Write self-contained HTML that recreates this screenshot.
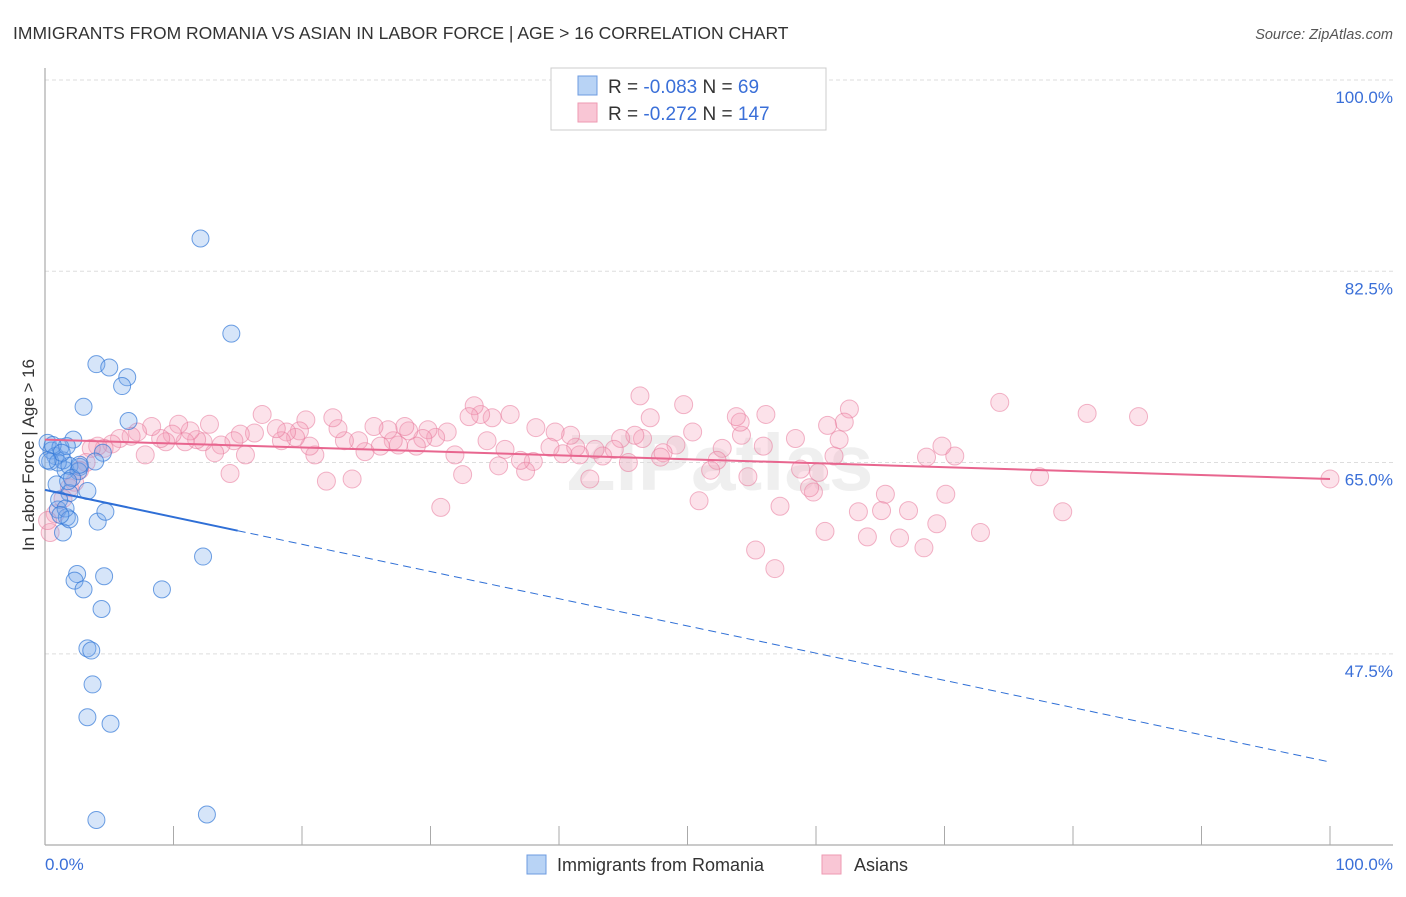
<!DOCTYPE html>
<html><head><meta charset="utf-8"><style>
body{margin:0;background:#fff;font-family:"Liberation Sans",sans-serif;}
svg text{font-family:"Liberation Sans",sans-serif;}
</style></head><body>
<svg id="c" width="1406" height="892" xmlns="http://www.w3.org/2000/svg">
<text x="13" y="39" font-size="17.5" fill="#333">IMMIGRANTS FROM ROMANIA VS ASIAN IN LABOR FORCE | AGE &gt; 16 CORRELATION CHART</text>
<text x="1393" y="39" font-size="14.5" fill="#555" font-style="italic" text-anchor="end">Source: ZipAtlas.com</text>
<text x="720" y="490" font-size="80" fill="#e6e6e6" font-weight="bold" text-anchor="middle" opacity="0.6">ZIPatlas</text>
<g id="grid"></g>
<line x1="45" y1="68" x2="45" y2="845" stroke="#aaa" stroke-width="1.2"/>
<line x1="45" y1="845" x2="1393" y2="845" stroke="#aaa" stroke-width="1.2"/>
<g id="xticks"></g>
<text transform="translate(34,455) rotate(-90)" font-size="17" fill="#333" text-anchor="middle">In Labor Force | Age &gt; 16</text>
<text x="45" y="870" font-size="17" fill="#3a6fd8">0.0%</text>
<text x="1393" y="870" font-size="17" fill="#3a6fd8" text-anchor="end">100.0%</text>
<g id="pts"></g>
<g id="trend"></g>
<g>
<rect x="551" y="68" width="275" height="62" fill="#fff" stroke="#ccc"/>
<rect x="578" y="76" width="19" height="19" fill="#b8d3f5" stroke="#6d9be0"/>
<rect x="578" y="103" width="19" height="19" fill="#f9c6d5" stroke="#ee9ab2"/>
<text x="608" y="93" font-size="19" fill="#333">R = <tspan fill="#3a6fd8">-0.083</tspan>   N =  <tspan fill="#3a6fd8"> 69</tspan></text>
<text x="608" y="120" font-size="19" fill="#333">R =  <tspan fill="#3a6fd8">-0.272</tspan>   N = <tspan fill="#3a6fd8">147</tspan></text>
</g>
<g>
<rect x="527" y="855" width="19" height="19" fill="#b8d3f5" stroke="#6d9be0"/>
<text x="557" y="871" font-size="18" fill="#333">Immigrants from Romania</text>
</g>
<g>
<rect x="822" y="855" width="19" height="19" fill="#f9c6d5" stroke="#ee9ab2"/>
<text x="854" y="871" font-size="18" fill="#333">Asians</text>
</g>
</svg>
<script>
const yTicks=[100,82.5,65,47.5];
const yTickLabels=["100.0%","82.5%","65.0%","47.5%"];
const blueX=[12.1,14.5,4.0,5.0,6.4,6.0,3.0,6.5,2.2,4.5,3.9,2.7,1.6,0.9,3.3,1.9,1.0,1.7,4.1,4.7,1.4,12.3,2.5,2.3,4.6,3.0,9.1,4.4,3.3,3.6,3.7,3.3,5.1,4.0,12.6,0.2,0.5,0.8,1.2,1.4,1.7,0.4,1.0,1.9,0.6,1.3,0.2,2.6,2.1,2.7,1.8,1.1,1.6,1.9,1.2];
const blueY=[85.5,76.8,74.0,73.7,72.8,72.0,70.1,68.8,67.1,65.9,65.1,64.6,64.3,63.0,62.4,62.2,60.7,60.0,59.6,60.5,58.6,56.4,54.8,54.2,54.6,53.4,53.4,51.6,48.0,47.8,44.7,41.7,41.1,32.3,32.8,66.8,66.1,65.6,66.4,65.2,66.5,65.1,65.0,64.7,66.6,65.9,65.2,64.2,63.6,64.8,63.3,61.6,60.8,59.8,60.2];
const pinkX=[100,85.1,81.1,74.3,79.2,77.4,72.8,70.1,69.4,70.8,69.8,68.6,68.4,67.2,66.5,65.4,65.1,64.0,63.3,62.6,62.2,61.8,61.4,60.7,59.8,59.5,58.8,60.2,60.9,58.4,57.2,56.8,56.1,55.3,55.9,54.7,54.2,54.1,53.8,52.7,52.3,51.8,50.4,49.7,50.9,49.1,48.1,47.9,47.1,46.3,46.5,45.9,45.4,44.8,44.3,43.4,42.8,42.4,41.6,41.3,40.9,40.3,39.7,39.3,38.2,38.0,37.4,37.0,36.2,35.8,35.3,34.8,34.4,33.9,33.4,33.0,32.5,31.9,31.3,30.8,30.4,29.8,29.4,28.9,28.3,28.0,27.5,27.1,26.7,26.1,25.6,24.9,24.4,23.9,23.3,22.8,22.4,21.9,21.0,20.6,20.3,19.8,19.5,18.8,18.4,18.0,16.9,16.3,15.6,15.2,14.7,14.4,13.7,13.2,12.8,12.3,11.8,11.3,10.9,10.4,9.9,9.4,9.0,8.3,7.8,7.2,6.7,5.8,5.2,4.6,4.1,3.6,3.2,2.7,2.3,1.9,1.4,0.8,0.4,0.2];
const pinkY=[63.5,69.2,69.5,70.5,60.5,63.7,58.6,62.1,59.4,65.6,66.5,65.5,57.2,60.6,58.1,62.1,60.6,58.2,60.5,69.9,68.7,67.1,65.6,58.7,62.3,62.7,64.4,64.1,68.4,67.2,61.0,55.3,69.4,57.0,66.5,63.7,67.5,68.7,69.2,66.3,65.2,64.3,67.8,70.3,61.5,66.6,65.9,65.5,69.1,71.1,67.2,67.5,65.0,67.2,66.2,65.6,66.2,63.5,65.7,66.4,67.5,65.8,67.8,66.4,68.2,65.1,64.2,65.2,69.4,66.2,64.7,69.1,67.0,69.4,70.2,69.2,63.9,65.7,67.8,60.9,67.3,68.0,67.2,66.5,67.9,68.3,66.6,67.0,68.0,66.5,68.3,66.0,67.0,63.5,67.0,68.1,69.1,63.3,65.7,66.5,68.9,67.9,67.3,67.8,67.0,68.1,69.4,67.7,65.7,67.6,67.0,64.0,66.6,65.9,68.5,66.9,67.1,67.9,66.9,68.5,67.6,66.9,67.2,68.3,65.7,67.8,67.4,67.2,66.7,66.3,66.5,66.3,65.0,64.3,63.2,62.7,61.7,60.3,58.6,59.7];
const blueTrend=[62.5,37.6]; const blueSolidEnd=15;
const pinkTrend=[67.1,63.5];
const NS="http://www.w3.org/2000/svg";
const X=v=>45+v*12.85, Y=v=>80+(100-v)*10.93;
function mk(t,a,p){const e=document.createElementNS(NS,t);for(const k in a)e.setAttribute(k,a[k]);p.appendChild(e);return e;}
const grid=document.getElementById('grid');
yTicks.forEach((t,i)=>{
 const l=mk('line',{x1:45,x2:1393,y1:Y(t),y2:Y(t),stroke:'#ddd','stroke-dasharray':'4 3'},grid);
 
 
 const tx=mk('text',{x:1393,y:Y(t)+23,'font-size':17,fill:'#3a6fd8','text-anchor':'end'},grid);
 tx.textContent=yTickLabels[i];
 
 
});
const xt=document.getElementById('xticks');
for(let i=0;i<=10;i++){
 const l=mk('line',{x1:X(i*10),x2:X(i*10),y1:826,y2:845,stroke:'#aaa'},xt);
 
 
}
const pts=document.getElementById('pts');
pinkX.forEach((x,i)=>{
 const c=mk('circle',{cx:X(x),cy:Y(pinkY[i]),r:9,fill:'rgba(244,160,185,0.3)',stroke:'rgba(232,120,155,0.55)','stroke-width':1},pts);
 
 
});
blueX.forEach((x,i)=>{
 const c=mk('circle',{cx:X(x),cy:Y(blueY[i]),r:8.5,fill:'rgba(120,170,235,0.3)',stroke:'rgba(50,120,215,0.7)','stroke-width':1},pts);
 
 
});
const tr=document.getElementById('trend');
const bAt=x=>blueTrend[0]+(blueTrend[1]-blueTrend[0])*x/100;
let l=mk('line',{x1:X(0),y1:Y(bAt(0)),x2:X(blueSolidEnd),y2:Y(bAt(blueSolidEnd)),stroke:'#2f6fd6','stroke-width':2},tr);


l=mk('line',{x1:X(blueSolidEnd),y1:Y(bAt(blueSolidEnd)),x2:X(100),y2:Y(bAt(100)),stroke:'#2f6fd6','stroke-width':1,'stroke-dasharray':'8 5'},tr);


l=mk('line',{x1:X(0),y1:Y(pinkTrend[0]),x2:X(100),y2:Y(pinkTrend[1]),stroke:'#e8668f','stroke-width':2},tr);


</script>
</body></html>
